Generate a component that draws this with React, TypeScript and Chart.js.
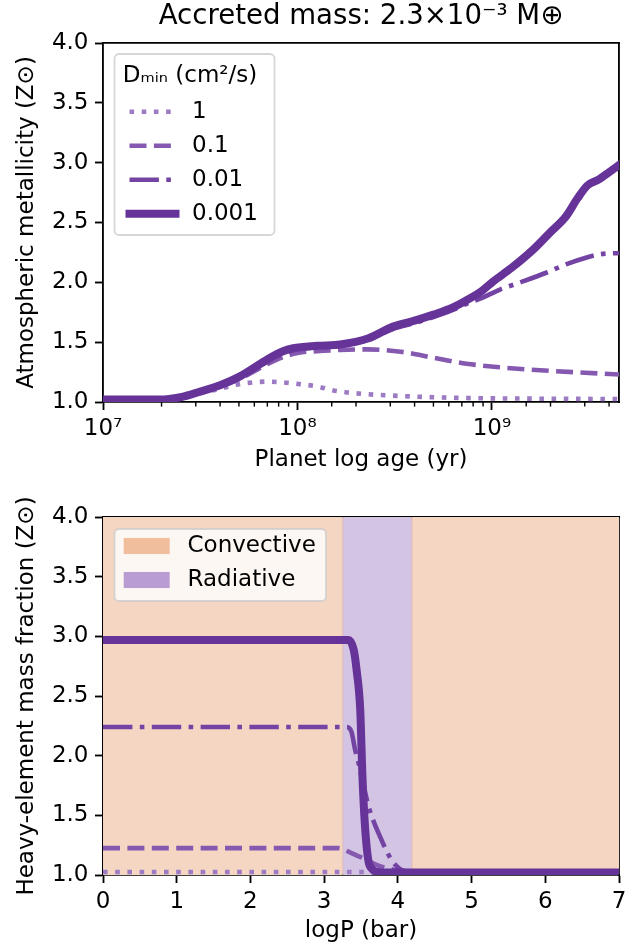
import React, { useEffect, useRef } from 'react';
import { Chart, registerables } from 'chart.js';

Chart.register(...registerables);

// ---------------- data: top panel (atmospheric metallicity vs age) ----------------
const D_MIN_LABELS = ['1', '0.1', '0.01', '0.001'];

const AGE_D1 = [1e7, 1.95e7, 2.5e7, 3.16e7, 4e7, 4.7e7, 5.6e7, 6.9e7, 8.3e7, 9.5e7, 1.26e8, 1.5e8, 1.8e8, 2.3e8, 3.4e8, 5e8, 7.4e8, 1.1e9, 2e9, 4.5e9];
const Z_D1 = [1.02, 1.02, 1.035, 1.075, 1.11, 1.14, 1.16, 1.17, 1.165, 1.155, 1.13, 1.1, 1.08, 1.065, 1.05, 1.04, 1.033, 1.03, 1.027, 1.025];

const AGE_D01 = [1e7, 1.95e7, 2.5e7, 3.16e7, 4e7, 5e7, 6.9e7, 8.3e7, 1e8, 1.26e8, 1.66e8, 2.3e8, 3.4e8, 5e8, 7.4e8, 1.1e9, 2e9, 3e9, 4.5e9];
const Z_D01 = [1.02, 1.02, 1.035, 1.08, 1.13, 1.19, 1.31, 1.37, 1.41, 1.425, 1.435, 1.44, 1.42, 1.37, 1.32, 1.29, 1.26, 1.245, 1.23];

const AGE_D001 = [1e7, 1.95e7, 2.5e7, 3.16e7, 4e7, 5e7, 6.9e7, 8.3e7, 9.5e7, 1.26e8, 1.66e8, 2.3e8, 3.1e8, 4e8, 5e8, 6.3e8, 7.4e8, 8.9e8, 1.1e9, 1.4e9, 1.9e9, 2.4e9, 3.1e9, 3.6e9, 4.5e9];
const Z_D001 = [1.02, 1.02, 1.035, 1.08, 1.13, 1.2, 1.33, 1.4, 1.43, 1.455, 1.47, 1.52, 1.61, 1.66, 1.71, 1.77, 1.82, 1.87, 1.94, 2.0, 2.08, 2.15, 2.21, 2.235, 2.245];

const AGE_D0001 = [1e7, 1.95e7, 2.5e7, 3.16e7, 4e7, 5e7, 6.9e7, 8.3e7, 9.5e7, 1.26e8, 1.66e8, 2.3e8, 3.1e8, 4e8, 5e8, 6.3e8, 7.4e8, 8.9e8, 1.02e9, 1.26e9, 1.62e9, 2e9, 2.4e9, 2.75e9, 3.1e9, 3.55e9, 4e9, 4.5e9];
const Z_D0001 = [1.02, 1.02, 1.04, 1.087, 1.14, 1.21, 1.35, 1.42, 1.45, 1.47, 1.48, 1.53, 1.63, 1.68, 1.73, 1.79, 1.85, 1.93, 2.01, 2.12, 2.27, 2.42, 2.55, 2.7, 2.81, 2.86, 2.92, 2.98];

const AGE_MIN = 1e7;
const AGE_MAX = 4.5e9;

// ---------------- data: bottom panel (heavy-element profile vs logP) ----------------
const P_D1 = [0, 3.5, 4.0, 7];
const ZP_D1 = [1.025, 1.025, 1.02, 1.02];

const P_D01 = [0, 3.2, 3.26, 3.35, 3.44, 3.53, 3.62, 3.71, 3.8, 3.9, 3.98, 4.12, 4.3, 7];
const ZP_D01 = [1.225, 1.225, 1.215, 1.19, 1.165, 1.14, 1.11, 1.085, 1.065, 1.05, 1.04, 1.025, 1.02, 1.02];

const P_D001 = [0, 3.3, 3.37, 3.42, 3.47, 3.51, 3.56, 3.62, 3.69, 3.76, 3.84, 3.92, 4.03, 4.12, 4.3, 7];
const ZP_D001 = [2.24, 2.24, 2.2, 2.05, 1.93, 1.82, 1.68, 1.54, 1.42, 1.32, 1.21, 1.12, 1.05, 1.03, 1.02, 1.02];

const P_D0001 = [0, 3.33, 3.4, 3.44, 3.49, 3.52, 3.555, 3.6, 3.65, 3.72, 3.9, 7];
const ZP_D0001 = [2.97, 2.97, 2.89, 2.72, 2.38, 1.82, 1.4, 1.12, 1.05, 1.025, 1.02, 1.02];

const ZONE_EDGES = [0, 3.25, 4.19, 7];
const ZONE_KINDS = ['Convective', 'Radiative', 'Convective'];
const ZONE_LEGEND = ['Convective', 'Radiative'];

const Y_MIN = 1;
const Y_MAX = 4;
const P_MIN = 0;
const P_MAX = 7;

// ---------------- styles ----------------
const FONT = '"DejaVu Sans", sans-serif';
const FS = 23;
const AXIS_W = 1.84;
const LINE_STYLES = [
  { color: '#9d7bc4', width: 4.6, dash: [4.6, 7.6], cap: 'butt' },
  { color: '#8659b0', width: 4.6, dash: [17, 7.4], cap: 'butt' },
  { color: '#7444a4', width: 4.6, dash: [29.4, 7.4, 4.6, 7.4], cap: 'butt' },
  { color: '#663399', width: 8, dash: [], cap: 'square' },
];
const ZONE_FILL: Record<string, string> = { Convective: '#f4d6c3', Radiative: '#d3c4e4' };
const ZONE_PATCH: Record<string, string> = { Convective: '#f0bd9d', Radiative: '#b99dd2' };

const SUP: Record<string, string> = { '0': '⁰', '1': '¹', '2': '²', '3': '³', '4': '⁴', '5': '⁵', '6': '⁶', '7': '⁷', '8': '⁸', '9': '⁹', '-': '⁻' };
const toSup = (s: string) => s.split('').map((c) => SUP[c] || c).join('');
const isPow10 = (v: number) => {
  if (!(v > 0)) return false;
  const l = Math.log10(v);
  return Math.abs(l - Math.round(l)) < 1e-9;
};

function lineDatasets(xs: number[][], ys: number[][]) {
  return D_MIN_LABELS.map((label, i) => ({
    label,
    data: xs[i].map((x, j) => ({ x, y: ys[i][j] })),
    borderColor: LINE_STYLES[i].color,
    backgroundColor: LINE_STYLES[i].color,
    borderWidth: LINE_STYLES[i].width,
    borderDash: LINE_STYLES[i].dash,
    borderCapStyle: LINE_STYLES[i].cap,
    borderJoinStyle: 'round',
    pointRadius: 0,
    fill: false,
    cubicInterpolationMode: 'monotone',
    clip: 0,
    order: D_MIN_LABELS.length - i,
  }));
}

const font = (size = FS) => ({ family: FONT, size });

function spineAxis(position: 'top' | 'right', size: number, title?: string) {
  return {
    type: 'linear',
    position,
    display: true,
    z: 1,
    grid: { display: false, drawOnChartArea: false },
    ticks: { display: false },
    border: { display: true, color: '#000', width: AXIS_W },
    title: title
      ? { display: true, text: title, color: '#000', font: font(27.6), padding: { top: 0.6, bottom: 0 } }
      : { display: false },
    afterFit: (s: any) => {
      if (position === 'top') s.height = size;
      else s.width = size;
    },
  };
}

function yAxis(title: string) {
  return {
    type: 'linear',
    position: 'left',
    min: Y_MIN,
    max: Y_MAX,
    z: 1,
    grid: { display: true, drawOnChartArea: false, drawTicks: true, tickLength: 8, tickWidth: AXIS_W, tickColor: '#000' },
    border: { display: true, color: '#000', width: AXIS_W },
    ticks: { stepSize: 0.5, padding: 6.5, color: '#000', font: font(), callback: (v: any) => Number(v).toFixed(1) },
    title: { display: true, text: title, color: '#000', font: font(), padding: { top: 13, bottom: 0 } },
    afterFit: (s: any) => {
      s.width = 103;
    },
  };
}

const minorTickPlugin = {
  id: 'minorTicks',
  afterDraw(chart: any) {
    const s = chart.scales.x;
    const ctx = chart.ctx;
    ctx.save();
    ctx.strokeStyle = '#000';
    ctx.lineWidth = 1.4;
    for (const t of s.ticks) {
      if (isPow10(t.value) || t.value >= s.max) continue;
      const px = s.getPixelForValue(t.value);
      ctx.beginPath();
      ctx.moveTo(px, s.top);
      ctx.lineTo(px, s.top + 4.6);
      ctx.stroke();
    }
    ctx.restore();
  },
};

function drawFrame(ctx: CanvasRenderingContext2D, x: number, y: number, w: number, h: number) {
  ctx.beginPath();
  (ctx as any).roundRect(x, y, w, h, 4.6);
  ctx.fillStyle = 'rgba(255,255,255,0.8)';
  ctx.fill();
  ctx.lineWidth = 1.8;
  ctx.strokeStyle = 'rgba(204,204,204,0.8)';
  ctx.stroke();
}

const dminLegendPlugin = {
  id: 'dminLegend',
  afterDatasetsDraw(chart: any) {
    const { ctx, chartArea } = chart;
    const x0 = chartArea.left + 11.5;
    const y0 = chartArea.top + 11;
    ctx.save();
    drawFrame(ctx, x0, y0, 160, 181);
    ctx.font = `${FS}px ${FONT}`;
    ctx.fillStyle = '#000';
    ctx.textBaseline = 'middle';
    ctx.textAlign = 'left';
    ctx.fillText('Dₘᵢₙ (cm²/s)', x0 + 8.2, y0 + 22.5);
    chart.data.datasets.forEach((ds: any, i: number) => {
      const cy = y0 + 57.7 + i * 34;
      ctx.save();
      ctx.strokeStyle = ds.borderColor;
      ctx.lineWidth = ds.borderWidth;
      ctx.setLineDash(ds.borderDash || []);
      ctx.lineCap = ds.borderCapStyle;
      ctx.beginPath();
      ctx.moveTo(x0 + 15, cy);
      ctx.lineTo(x0 + 61, cy);
      ctx.stroke();
      ctx.restore();
      ctx.fillText(ds.label, x0 + 77.5, cy);
    });
    ctx.restore();
  },
};

const zoneLegendPlugin = {
  id: 'zoneLegend',
  afterDatasetsDraw(chart: any) {
    const { ctx, chartArea } = chart;
    const x0 = chartArea.left + 11.5;
    const y0 = chartArea.top + 12;
    ctx.save();
    drawFrame(ctx, x0, y0, 211.5, 72);
    ctx.font = `${FS}px ${FONT}`;
    ctx.textBaseline = 'middle';
    ctx.textAlign = 'left';
    ZONE_LEGEND.forEach((kind, i) => {
      const cy = y0 + 17 + i * 34;
      ctx.fillStyle = ZONE_PATCH[kind];
      ctx.fillRect(x0 + 9.2, cy - 8.05, 46, 16.1);
      ctx.fillStyle = '#000';
      ctx.fillText(kind, x0 + 73, cy);
    });
    ctx.restore();
  },
};

function TopChart() {
  const ref = useRef<HTMLCanvasElement>(null);
  useEffect(() => {
    const chart = new Chart(ref.current as HTMLCanvasElement, {
      type: 'line',
      data: {
        datasets: lineDatasets([AGE_D1, AGE_D01, AGE_D001, AGE_D0001], [Z_D1, Z_D01, Z_D001, Z_D0001]) as any,
      },
      options: {
        animation: false,
        responsive: false,
        devicePixelRatio: 1,
        layout: { padding: 0 },
        plugins: { legend: { display: false }, tooltip: { enabled: false }, title: { display: false } },
        scales: {
          x: {
            type: 'logarithmic',
            position: 'bottom',
            min: AGE_MIN,
            max: AGE_MAX,
            z: 1,
            grid: {
              display: true,
              drawOnChartArea: false,
              drawTicks: true,
              tickLength: 8,
              tickWidth: AXIS_W,
              tickColor: (c: any) => (c.tick && isPow10(c.tick.value) ? '#000' : 'rgba(0,0,0,0)'),
            },
            border: { display: true, color: '#000', width: AXIS_W },
            ticks: {
              autoSkip: false,
              maxRotation: 0,
              minRotation: 0,
              padding: 5,
              color: '#000',
              font: font(),
              callback: (v: any) => (isPow10(Number(v)) ? '10' + toSup(String(Math.round(Math.log10(Number(v))))) : ''),
            },
            title: { display: true, text: 'Planet log age (yr)', color: '#000', font: font(), padding: { top: 0, bottom: 6.2 } },
            afterFit: (s: any) => {
              s.height = 78;
            },
          } as any,
          y: yAxis('Atmospheric metallicity (Z⊙)') as any,
          xTop: spineAxis('top', 43, 'Accreted mass: 2.3×10' + toSup('-3') + ' M⊕') as any,
          yR: spineAxis('right', 20) as any,
        },
      },
      plugins: [minorTickPlugin, dminLegendPlugin],
    });
    return () => chart.destroy();
  }, []);
  return <canvas ref={ref} width={639} height={480} style={{ position: 'absolute', left: 0, top: 0, display: 'block' }} />;
}

function BottomChart() {
  const ref = useRef<HTMLCanvasElement>(null);
  useEffect(() => {
    const zoneSets = ZONE_KINDS.map((kind, i) => ({
      label: kind,
      data: [
        { x: ZONE_EDGES[i], y: Y_MAX },
        { x: ZONE_EDGES[i + 1], y: Y_MAX },
      ],
      fill: 'start',
      backgroundColor: ZONE_FILL[kind],
      borderColor: 'rgba(0,0,0,0)',
      borderWidth: 0,
      pointRadius: 0,
      clip: 0,
      order: 20,
    }));
    const edgeSets = ZONE_EDGES.slice(1, -1).map((e) => ({
      label: 'edge',
      data: [
        { x: e, y: Y_MIN },
        { x: e, y: Y_MAX },
      ],
      fill: false,
      borderColor: 'rgba(222,170,160,0.55)',
      borderWidth: 1.5,
      pointRadius: 0,
      clip: 0,
      order: 15,
    }));
    const chart = new Chart(ref.current as HTMLCanvasElement, {
      type: 'line',
      data: {
        datasets: [
          ...lineDatasets([P_D1, P_D01, P_D001, P_D0001], [ZP_D1, ZP_D01, ZP_D001, ZP_D0001]),
          ...edgeSets,
          ...zoneSets,
        ] as any,
      },
      options: {
        animation: false,
        responsive: false,
        devicePixelRatio: 1,
        layout: { padding: 0 },
        plugins: { legend: { display: false }, tooltip: { enabled: false }, title: { display: false } },
        scales: {
          x: {
            type: 'linear',
            position: 'bottom',
            min: P_MIN,
            max: P_MAX,
            z: 1,
            grid: { display: true, drawOnChartArea: false, drawTicks: true, tickLength: 8, tickWidth: AXIS_W, tickColor: '#000' },
            border: { display: true, color: '#000', width: AXIS_W },
            ticks: { stepSize: 1, padding: 5, maxRotation: 0, color: '#000', font: font(), callback: (v: any) => String(Math.round(Number(v))) },
            title: { display: true, text: 'logP (bar)', color: '#000', font: font(), padding: { top: 0, bottom: 1.9 } },
            afterFit: (s: any) => {
              s.height = 72;
            },
          } as any,
          y: yAxis('Heavy-element mass fraction (Z⊙)') as any,
          xTop: spineAxis('top', 37) as any,
          yR: spineAxis('right', 20) as any,
        },
      },
      plugins: [zoneLegendPlugin],
    });
    return () => chart.destroy();
  }, []);
  return <canvas ref={ref} width={639} height={467} style={{ position: 'absolute', left: 0, top: 480, display: 'block' }} />;
}

export default function App() {
  return (
    <div style={{ position: 'absolute', left: 0, top: 0, width: 639, height: 947, background: '#fff', fontFamily: FONT }}>
      <TopChart />
      <BottomChart />
    </div>
  );
}
